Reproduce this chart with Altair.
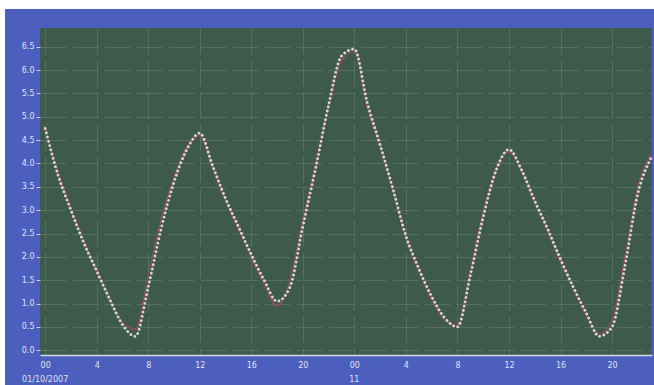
import altair as alt
import pandas as pd

# Hourly tide heights over two days (hour 0 = midnight of the first day)
hours = list(range(48))
predicted = [4.75, 3.75, 3.0, 2.3, 1.7, 1.1, 0.55, 0.3, 1.35, 2.6, 3.6, 4.3,
             4.65, 3.95, 3.25, 2.65, 2.05, 1.5, 1.05, 1.35, 2.65, 3.9, 5.25, 6.3,
             6.45, 5.3, 4.4, 3.45, 2.45, 1.75, 1.15, 0.7, 0.5, 1.6, 2.85, 3.85,
             4.3, 3.85, 3.2, 2.6, 1.95, 1.35, 0.8, 0.3, 0.5, 1.8, 3.35, 4.1]
observed = [4.8, 3.8, 3.05, 2.35, 1.7, 1.1, 0.6, 0.45, 1.6, 2.8, 3.7, 4.35,
            4.6, 3.9, 3.2, 2.6, 2.0, 1.4, 0.95, 1.5, 2.8, 4.0, 5.2, 6.2,
            6.4, 5.2, 4.35, 3.4, 2.4, 1.7, 1.1, 0.65, 0.55, 1.7, 2.95, 3.9,
            4.25, 3.8, 3.15, 2.55, 1.9, 1.3, 0.75, 0.35, 0.65, 2.0, 3.5, 4.2]

y_ticks = [0.0, 0.5, 1.0, 1.5, 2.0, 2.5, 3.0, 3.5, 4.0, 4.5, 5.0, 5.5, 6.0, 6.5]
x_ticks = [0, 4, 8, 12, 16, 20, 24, 28, 32, 36, 40, 44]
date_hours = [0, 24]
date_labels = ["01/10/2007", "11"]

df = pd.DataFrame({"hour": hours, "predicted": predicted, "observed": observed})
dates = pd.DataFrame({"hour": date_hours, "label": date_labels})

W, H = 612, 327
FRAME = "#4d5fbe"
PLOT = "#3e5a4c"
LABEL = "#dfe3f2"

x_scale = alt.Scale(domain=[-0.4, 47.1], nice=False, zero=False)
y_scale = alt.Scale(domain=[-0.1, 6.9], nice=False, zero=False)

x_axis = alt.Axis(
    values=x_ticks,
    labelExpr="datum.value % 24 == 0 ? '00' : '' + (datum.value % 24)",
    title=None, grid=True, domain=True, domainColor="#d4d9ea", domainWidth=1.5,
    ticks=False, labelPadding=6, labelAngle=0, labelOverlap=False,
)
y_axis = alt.Axis(
    values=y_ticks, format=".1f", title=None, grid=True, domain=False,
    ticks=True, tickSize=4, tickColor="#c8cde2", labelPadding=2,
    labelOverlap=False, labelFlush=False,
)

base = alt.Chart(df)

observed_line = base.mark_line(
    color="#a04a5c", strokeWidth=1.4, opacity=0.85, interpolate="monotone"
).encode(
    x=alt.X("hour:Q", scale=x_scale, axis=x_axis),
    y=alt.Y("observed:Q", scale=y_scale, axis=y_axis),
)

predicted_dots = base.mark_line(
    color="#dcd6d3", strokeWidth=2.8, strokeDash=[0.1, 4.3], strokeCap="round",
    interpolate="monotone",
).encode(
    x=alt.X("hour:Q", scale=x_scale, axis=x_axis),
    y=alt.Y("predicted:Q", scale=y_scale, axis=y_axis),
)

date_text = alt.Chart(dates).mark_text(
    color=LABEL, fontSize=8, font="DejaVu Sans", align="center", baseline="middle"
).encode(
    x=alt.X("hour:Q", scale=x_scale, axis=x_axis),
    y=alt.value(H + 25),
    text="label:N",
)

# white page margin above and left of the blue frame
margin_top = alt.Chart(df).mark_rect(color="white").encode(
    x=alt.value(-40), x2=alt.value(W + 2), y=alt.value(-28), y2=alt.value(-19)
)
margin_left = alt.Chart(df).mark_rect(color="white").encode(
    x=alt.value(-40), x2=alt.value(-35), y=alt.value(-28), y2=alt.value(H + 30)
)

chart = alt.layer(
    observed_line, predicted_dots, date_text, margin_top, margin_left
).properties(
    width=W, height=H,
    autosize=alt.AutoSizeParams(type="none"),
    padding={"left": 40, "top": 28, "right": 2, "bottom": 30},
    background=FRAME,
).configure_view(
    fill=PLOT, stroke=None
).configure_axis(
    labelColor=LABEL, labelFont="DejaVu Sans", labelFontSize=8,
    gridColor="#93aa9c", gridOpacity=0.28, gridDash=[26, 6], gridWidth=1,
)

chart.save("out.html", embed_options={"renderer": "svg", "actions": False})
